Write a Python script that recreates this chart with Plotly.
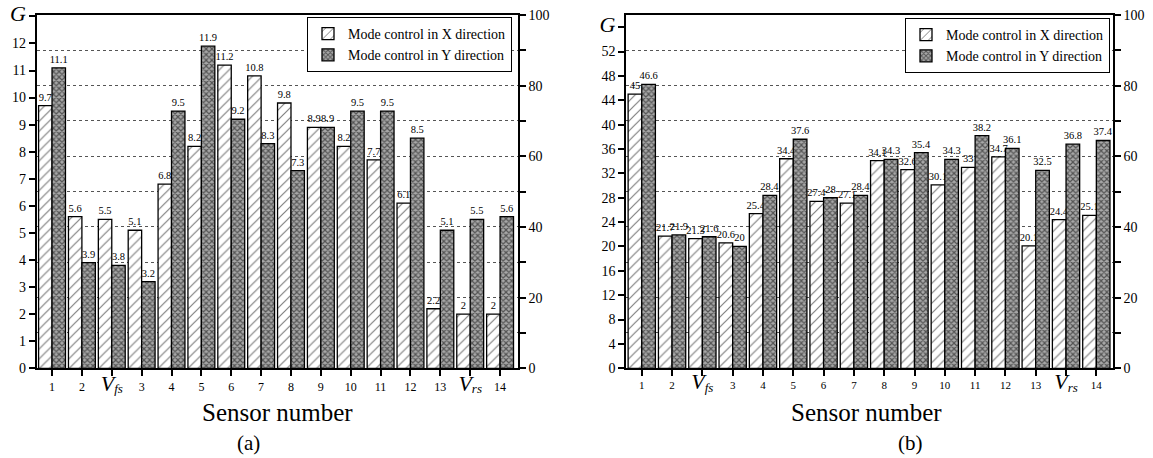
import plotly.graph_objects as go

# ---------------- data ----------------
categories = ["1", "2", "Vfs", "3", "4", "5", "6", "7", "8", "9", "10", "11", "12", "13", "Vrs", "14"]
series_names = ["Mode control in X direction", "Mode control in Y direction"]

a_x = [9.7, 5.6, 5.5, 5.1, 6.8, 8.2, 11.2, 10.8, 9.8, 8.9, 8.2, 7.7, 6.1, 2.2, 2, 2]
a_y = [11.1, 3.9, 3.8, 3.2, 9.5, 11.9, 9.2, 8.3, 7.3, 8.9, 9.5, 9.5, 8.5, 5.1, 5.5, 5.6]

b_x = [45, 21.7, 21.3, 20.6, 25.4, 34.4, 27.4, 27.1, 34.1, 32.6, 30.1, 33, 34.7, 20.1, 24.4, 25.1]
b_y = [46.6, 21.9, 21.6, 20, 28.4, 37.6, 28, 28.4, 34.3, 35.4, 34.3, 38.2, 36.1, 32.5, 36.8, 37.4]

a_left_ticks = list(range(0, 13))
b_left_ticks = list(range(0, 53, 4))
right_major = list(range(0, 101, 20))
right_minor = list(range(10, 100, 20))

# ---------------- helpers ----------------
W, H = 1153, 458
FONT = "Liberation Serif"


def cat_label(c):
    if c.startswith("V"):
        return ("<span style='font-size:22px'><i>V</i></span>"
                "<sub><span style='font-size:13px'><i>%s</i></span></sub>" % c[1:])
    return c


def fmt(v):
    return f"{v:g}"


pos = list(range(len(categories)))

x_pattern = dict(shape="/", fgcolor="black", bgcolor="white", size=7, solidity=0.17)
y_pattern = dict(shape="x", fgcolor="black", bgcolor="#a8a8a8", size=4, solidity=0.5)

fig = go.Figure()


def add_pair(xv, yv, xa, ya, ya2, legend):
    for vals, pat, name in ((xv, x_pattern, series_names[0]), (yv, y_pattern, series_names[1])):
        fig.add_trace(go.Bar(
            x=pos, y=vals, name=name,
            marker=dict(color="white", line=dict(color="black", width=1.3), pattern=pat),
            text=[fmt(v) for v in vals], textposition="outside",
            textfont=dict(family=FONT, size=10.5, color="black"),
            constraintext="none", cliponaxis=False,
            xaxis=xa, yaxis=ya, legend=legend,
        ))
    # empty placeholder so the secondary (percentage) axis is drawn
    fig.add_trace(go.Scatter(x=[], y=[], xaxis=xa, yaxis=ya2, showlegend=False,
                             hoverinfo="skip"))


add_pair(a_x, a_y, "x", "y", "y2", "legend")
add_pair(b_x, b_y, "x2", "y3", "y4", "legend2")

top_px, bot_px = 15, 368.3
ydom = [1 - bot_px / H, 1 - top_px / H]

tick_style = dict(ticks="outside", ticklen=6, tickwidth=1.5, tickcolor="black")

common_x = dict(
    tick_style, tickmode="array", tickvals=pos,
    showline=True, linecolor="black", linewidth=1.6, mirror=True,
    showgrid=False, zeroline=False, automargin=False,
    ticktext=[cat_label(c) for c in categories],
)
common_y = dict(
    tick_style,
    showline=True, linecolor="black", linewidth=1.6,
    showgrid=False, zeroline=False, domain=ydom, automargin=False,
    tickfont=dict(family=FONT, size=14, color="black"),
)
common_y2 = dict(
    tick_style,
    side="right", range=[0, 100], tickmode="array", tickvals=right_major,
    showline=True, linecolor="black", linewidth=1.6,
    showgrid=True, gridcolor="#555555", gridwidth=1.2, griddash="dot",
    minor=dict(tickmode="array", tickvals=right_minor, ticks="outside", ticklen=6,
               tickwidth=1.5, tickcolor="black", showgrid=True,
               gridcolor="#555555", gridwidth=1.2, griddash="dot"),
    zeroline=False, domain=ydom, automargin=False,
    tickfont=dict(family=FONT, size=14, color="black"),
)

G_txt = "<span style='font-size:22px'><i>G</i></span>"

legend_common = dict(
    xanchor="right", yanchor="top",
    bordercolor="black", borderwidth=1, bgcolor="white",
    font=dict(family=FONT, size=14, color="black"),
    tracegroupgap=0, itemwidth=30,
)


def note(text, x, y, size):
    return dict(text=text, x=x / W, y=1 - y / H, xref="paper", yref="paper",
                xanchor="center", yanchor="middle", showarrow=False,
                font=dict(family=FONT, size=size, color="black"))


fig.update_layout(
    width=W, height=H,
    margin=dict(l=0, r=0, t=0, b=0, autoexpand=False),
    paper_bgcolor="white", plot_bgcolor="white",
    barmode="group", bargap=0.1, bargroupgap=0,
    font=dict(family=FONT, color="black"),
    xaxis=dict(common_x, domain=[36.5 / W, 518 / W], anchor="y", range=[-0.52, 15.6],
               tickfont=dict(family=FONT, size=12, color="black")),
    yaxis=dict(common_y, anchor="x", range=[0, 13.05],
               tickmode="array", tickvals=a_left_ticks + [13],
               ticktext=[str(v) for v in a_left_ticks] + [G_txt]),
    yaxis2=dict(common_y2, anchor="x", overlaying="y"),
    xaxis2=dict(common_x, domain=[626 / W, 1113 / W], anchor="y3", range=[-0.52, 15.55],
                tickfont=dict(family=FONT, size=11, color="black")),
    yaxis3=dict(common_y, anchor="x2", range=[0, 58.0],
                tickmode="array", tickvals=b_left_ticks + [56],
                ticktext=[str(v) for v in b_left_ticks] + [G_txt]),
    yaxis4=dict(common_y2, anchor="x2", overlaying="y3"),
    legend=dict(legend_common, x=512 / W, y=1 - 17 / H),
    legend2=dict(legend_common, x=1110 / W, y=1 - 18 / H),
    showlegend=True,
    annotations=[
        note("Sensor number", 277, 412, 25),
        note("(a)", 248, 443, 21),
        note("Sensor number", 866, 412, 25),
        note("(b)", 910, 443, 21),
    ],
)

fig.write_html("out.html")
